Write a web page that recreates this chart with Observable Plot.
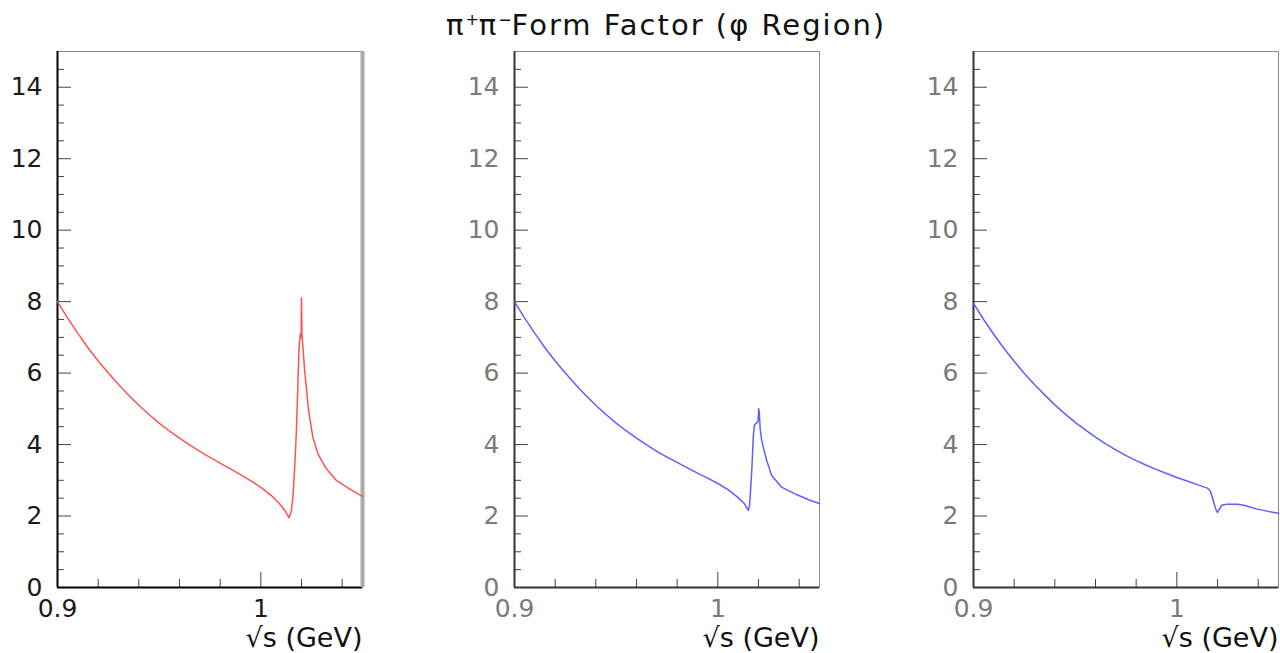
<!DOCTYPE html>
<html><head><meta charset="utf-8">
<script src="https://cdn.jsdelivr.net/npm/d3@7"></script>
<script src="https://cdn.jsdelivr.net/npm/@observablehq/plot@0.6"></script>
<style>
html,body{margin:0;padding:0;background:#fff;}
body{width:1280px;height:653px;position:relative;overflow:hidden;font-family:"DejaVu Sans",sans-serif;}
#title{position:absolute;left:0;width:1332px;top:11px;text-align:center;font-size:29px;line-height:29px;letter-spacing:2px;color:#111;white-space:nowrap;}
#title sup{font-size:55%;line-height:0;vertical-align:0.6em;letter-spacing:0;}
.panel{position:absolute;top:0;}
</style></head><body>
<div id="title">π<sup>+</sup>π<sup>−</sup>Form Factor (φ Region)</div>
<div id="p1" class="panel" style="left:-3px"></div>
<div id="p2" class="panel" style="left:454px"></div>
<div id="p3" class="panel" style="left:913px"></div>
<script>
// ---- data ----
const sqrtS1 = [0.900,0.905,0.910,0.915,0.920,0.925,0.930,0.935,0.940,0.945,0.950,0.955,0.960,0.965,0.970,0.975,0.980,0.985,0.990,0.995,1.000,1.005,1.009,1.012,1.0139,1.0150,1.0158,1.0167,1.0175,1.0183,1.0188,1.0194,1.0198,1.0200,1.0202,1.0207,1.0215,1.0224,1.0232,1.0240,1.0256,1.0281,1.0322,1.0371,1.0436,1.0500];
const ff1    = [8.00,7.54,7.11,6.71,6.34,6.00,5.68,5.38,5.10,4.84,4.60,4.38,4.18,3.99,3.81,3.64,3.48,3.32,3.16,2.99,2.80,2.58,2.36,2.14,1.95,2.15,2.55,3.40,4.40,5.80,6.70,7.10,7.00,8.10,7.10,6.73,6.10,5.60,5.10,4.77,4.20,3.74,3.32,3.00,2.76,2.55];

const sqrtS2 = [0.900,0.905,0.910,0.915,0.920,0.925,0.930,0.935,0.940,0.945,0.950,0.955,0.960,0.965,0.970,0.975,0.980,0.985,0.990,0.995,1.000,1.005,1.0097,1.013,1.0150,1.0156,1.0162,1.0168,1.0174,1.0180,1.0190,1.0198,1.0201,1.0204,1.0208,1.0215,1.0223,1.0240,1.0264,1.0313,1.0395,1.0450,1.0500];
const ff2    = [8.00,7.54,7.11,6.71,6.34,6.00,5.68,5.38,5.10,4.84,4.60,4.38,4.18,3.99,3.81,3.65,3.50,3.35,3.20,3.06,2.91,2.74,2.53,2.35,2.16,2.30,2.80,3.40,4.20,4.55,4.60,4.65,5.00,4.90,4.45,4.15,3.93,3.56,3.14,2.81,2.58,2.45,2.35];

const sqrtS3 = [0.900,0.905,0.910,0.915,0.920,0.925,0.930,0.935,0.940,0.945,0.950,0.955,0.960,0.965,0.970,0.975,0.980,0.985,0.990,0.995,1.000,1.005,1.010,1.0150,1.0165,1.0180,1.0192,1.0200,1.0208,1.0220,1.0245,1.0300,1.0330,1.0390,1.0450,1.0500];
const ff3    = [7.95,7.50,7.08,6.69,6.33,5.99,5.68,5.39,5.11,4.86,4.62,4.41,4.21,4.02,3.85,3.69,3.55,3.42,3.30,3.19,3.08,2.98,2.88,2.78,2.70,2.42,2.18,2.10,2.18,2.30,2.33,2.33,2.30,2.20,2.13,2.08];

const xTickValues = [0.9, 1.0];
const xTickLabels = ["0.9", "1"];
const xMinorTicks = [0.92, 0.94, 0.96, 0.98, 1.02, 1.04];
const yTickValues = [0, 2, 4, 6, 8, 10, 12, 14];
const yMinorTicks = [0.5,1,1.5,2.5,3,3.5,4.5,5,5.5,6.5,7,7.5,8.5,9,9.5,10.5,11,11.5,12.5,13,13.5,14.5];
const xLabel = "√s (GeV)";

const ML = 60, MR = 2, MT = 51, MB = 66, PW = 305, H = 653;
const PH = H - MT - MB;

function panel(id, xs, ys, color, labelColor, axisColor, thickRight) {
  const data = xs.map((x, i) => ({x, y: ys[i]}));
  const marks = [
    Plot.frame({stroke: "#8a8a8a", strokeWidth: 1}),
    Plot.tickY(yMinorTicks, {insetRight: PW - 7, stroke: "#444"}),
    Plot.tickY(yTickValues, {insetRight: PW - 14, stroke: "#444"}),
    Plot.tickX(xMinorTicks, {insetTop: PH - 8, stroke: "#444"}),
    Plot.tickX(xTickValues, {insetTop: PH - 15, stroke: "#444"}),
    Plot.ruleX([0.9], {stroke: axisColor, strokeWidth: 2}),
    Plot.ruleY([0], {stroke: axisColor, strokeWidth: 2})
  ];
  if (thickRight) marks.push(Plot.ruleX([1.05], {stroke: "#aaa", strokeWidth: 4}));
  marks.push(
    Plot.line(data, {x: "x", y: "y", stroke: color, strokeWidth: 1.5}),
    Plot.text([xLabel], {text: d => d, frameAnchor: "bottom-right", dy: 59, textAnchor: "end", fontSize: 27, fill: "#111"})
  );
  const chart = Plot.plot({
    width: ML + PW + MR, height: H,
    marginLeft: ML, marginRight: MR, marginTop: MT, marginBottom: MB,
    style: {fontFamily: "DejaVu Sans", fontSize: "25px", color: labelColor, background: "transparent", overflow: "visible"},
    x: {domain: [0.9, 1.05], ticks: xTickValues, tickFormat: d => xTickLabels[xTickValues.findIndex(v => Math.abs(v - d) < 1e-9)], tickSize: 0, tickPadding: 12, fontSize: 24, label: null},
    y: {domain: [0, 15], ticks: yTickValues, tickSize: 0, tickPadding: 15, label: null},
    marks
  });
  document.getElementById(id).appendChild(chart);
}

panel("p1", sqrtS1, ff1, "#ff5252", "#1a1a1a", "#000", true);
panel("p2", sqrtS2, ff2, "#5f5fff", "#7a7a7a", "#333", false);
panel("p3", sqrtS3, ff3, "#5f5fff", "#7a7a7a", "#333", false);
</script>
</body></html>
